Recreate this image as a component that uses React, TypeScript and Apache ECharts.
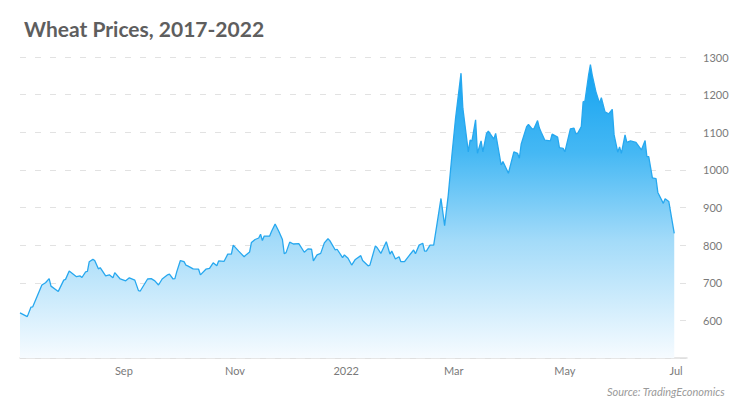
import React, { useEffect, useRef } from "react";
import * as echarts from "echarts";

const dates: string[] = [
  "2021-07-06","2021-07-10","2021-07-12","2021-07-13","2021-07-18","2021-07-20","2021-07-22","2021-07-23","2021-07-27","2021-07-30","2021-07-31",
  "2021-08-02","2021-08-06","2021-08-08","2021-08-09","2021-08-11","2021-08-12","2021-08-13","2021-08-15","2021-08-16","2021-08-18","2021-08-19","2021-08-22","2021-08-24","2021-08-26","2021-08-27","2021-08-30",
  "2021-09-02","2021-09-04","2021-09-07","2021-09-09","2021-09-10","2021-09-14","2021-09-16","2021-09-18","2021-09-20","2021-09-22","2021-09-25","2021-09-26","2021-09-28","2021-09-29","2021-09-30",
  "2021-10-02","2021-10-04","2021-10-05","2021-10-06","2021-10-09","2021-10-12","2021-10-13","2021-10-16","2021-10-18","2021-10-20","2021-10-22","2021-10-23","2021-10-26","2021-10-28","2021-10-30","2021-10-31",
  "2021-11-03","2021-11-06","2021-11-07","2021-11-09","2021-11-10","2021-11-12","2021-11-14","2021-11-15","2021-11-16","2021-11-17","2021-11-20","2021-11-21","2021-11-23","2021-11-25","2021-11-27","2021-11-28","2021-11-29",
  "2021-12-01","2021-12-03","2021-12-06","2021-12-09","2021-12-11","2021-12-13","2021-12-14","2021-12-16","2021-12-18","2021-12-20","2021-12-22","2021-12-23","2021-12-26","2021-12-27","2021-12-30","2021-12-31",
  "2022-01-02","2022-01-04","2022-01-06","2022-01-09","2022-01-10","2022-01-13","2022-01-14","2022-01-17","2022-01-18","2022-01-20","2022-01-23","2022-01-25","2022-01-26","2022-01-28","2022-01-30","2022-01-31",
  "2022-02-02","2022-02-04","2022-02-07","2022-02-08","2022-02-10","2022-02-12","2022-02-13","2022-02-14","2022-02-16","2022-02-18","2022-02-20","2022-02-22","2022-02-24","2022-02-26","2022-02-28",
  "2022-03-02","2022-03-05","2022-03-06","2022-03-09","2022-03-10","2022-03-11","2022-03-13","2022-03-14","2022-03-16","2022-03-17","2022-03-19","2022-03-20","2022-03-23","2022-03-24","2022-03-27","2022-03-28","2022-03-31",
  "2022-04-03","2022-04-05","2022-04-06","2022-04-07","2022-04-10","2022-04-11","2022-04-13","2022-04-14","2022-04-16","2022-04-17","2022-04-18","2022-04-20","2022-04-23","2022-04-24","2022-04-27","2022-04-28","2022-04-30",
  "2022-05-01","2022-05-04","2022-05-06","2022-05-07","2022-05-08","2022-05-10","2022-05-11","2022-05-12","2022-05-14","2022-05-15","2022-05-16","2022-05-18","2022-05-20","2022-05-21","2022-05-23","2022-05-25","2022-05-27","2022-05-28","2022-05-30","2022-05-31",
  "2022-06-01","2022-06-03","2022-06-04","2022-06-06","2022-06-09","2022-06-12","2022-06-14","2022-06-15","2022-06-16","2022-06-18","2022-06-20","2022-06-21","2022-06-24","2022-06-25","2022-06-27","2022-06-30"
];

const prices: number[] = [
  620,610,635,636,694,700,711,691,677,707,709,
  731,716,718,714,729,730,756,762,759,737,740,718,721,713,727,710,
  705,713,707,679,678,710,711,705,694,710,721,723,710,711,729,
  759,756,747,745,737,736,721,736,738,753,745,758,757,776,776,800,
  784,769,774,782,807,815,819,829,812,824,824,836,856,837,815,777,780,
  808,803,804,781,790,789,758,774,778,806,817,812,787,789,767,774,
  765,747,762,772,759,745,747,798,793,778,809,776,784,763,769,756,
  756,769,787,777,800,805,784,784,800,800,862,924,852,933,1039,
  1137,1257,1164,1048,1079,1077,1133,1044,1077,1048,1097,1103,1082,1097,1013,1022,991,
  1048,1044,1031,1068,1115,1121,1109,1109,1131,1111,1100,1079,1077,1095,1087,1059,1057,
  1048,1109,1111,1096,1097,1115,1181,1183,1252,1280,1252,1208,1177,1192,1154,1149,1161,1093,1047,1061,
  1044,1093,1073,1077,1073,1053,1078,1035,1035,979,977,940,911,923,916,831
];

const tickDates: string[] = ["2021-09-01", "2021-11-01", "2022-01-01", "2022-03-01", "2022-05-01", "2022-07-01"];
const tickLabels: string[] = ["Sep", "Nov", "2022", "Mar", "May", "Jul"];

const axisStart = "2021-07-06";
const axisEnd = "2022-07-07";

function toTs(s: string): number {
  const [y, m, d] = s.split("-").map(Number);
  return Date.UTC(y, m - 1, d);
}

export default function App() {
  const ref = useRef<HTMLDivElement>(null);
  useEffect(() => {
    document.body.style.margin = "0";
    if (!ref.current) return;
    const chart = echarts.init(ref.current, undefined, { renderer: "svg" });
    const tickTs = tickDates.map(toTs);
    const option = {
      animation: false,
      backgroundColor: "#ffffff",
      title: [
        {
          text: "Wheat Prices, 2017-2022",
          left: 19,
          top: 13,
          textStyle: { fontFamily: "Lato", fontWeight: "bold", fontSize: 21, color: "#5e5e5e" },
        },
        {
          text: "Source: TradingEconomics",
          left: 602,
          top: 381,
          textStyle: { fontFamily: "Lato", fontStyle: "italic", fontWeight: "normal", fontSize: 11, color: "#9a9a9a" },
        },
      ],
      grid: { left: 20, right: 63, top: 57, bottom: 52, containLabel: false },
      xAxis: {
        type: "value",
        min: toTs(axisStart),
        max: toTs(axisEnd),
        axisLine: { show: true, lineStyle: { color: "#dedede", width: 1.5 } },
        axisTick: { show: false },
        splitLine: { show: false },
        axisLabel: {
          customValues: tickTs,
          formatter: (v: number) => {
            const i = tickTs.findIndex((t) => Math.abs(t - v) < 86400000);
            return i >= 0 ? tickLabels[i] : "";
          },
          color: "#7a7a7a",
          fontFamily: "Lato",
          fontSize: 11,
          margin: 7,
        },
      },
      yAxis: {
        type: "value",
        position: "right",
        min: 500,
        max: 1300,
        interval: 100,
        axisLine: { show: false },
        axisTick: { show: false },
        splitLine: { show: true, lineStyle: { color: "#e2e2e2", type: [6, 9], width: 1 } },
        axisLabel: {
          formatter: (v: number) => (v === 500 ? "" : String(v)),
          color: "#7a7a7a",
          fontFamily: "Lato",
          fontSize: 11,
          margin: 16,
        },
      },
      series: [
        {
          type: "line",
          data: dates.map((d, i) => [toTs(d), prices[i]]),
          symbol: "none",
          smooth: false,
          lineStyle: { color: "#27a8ef", width: 1.3 },
          areaStyle: {
            opacity: 1,
            color: new echarts.graphic.LinearGradient(0, 0, 0, 1, [
              { offset: 0, color: "#12a2f0" },
              { offset: 0.3, color: "#45b8f4" },
              { offset: 0.6, color: "#a3dbf9" },
              { offset: 1, color: "#f6fbff" },
            ]),
          },
        },
      ],
    };
    chart.setOption(option);
    return () => chart.dispose();
  }, []);
  return <div ref={ref} style={{ width: 750, height: 410 }} />;
}
